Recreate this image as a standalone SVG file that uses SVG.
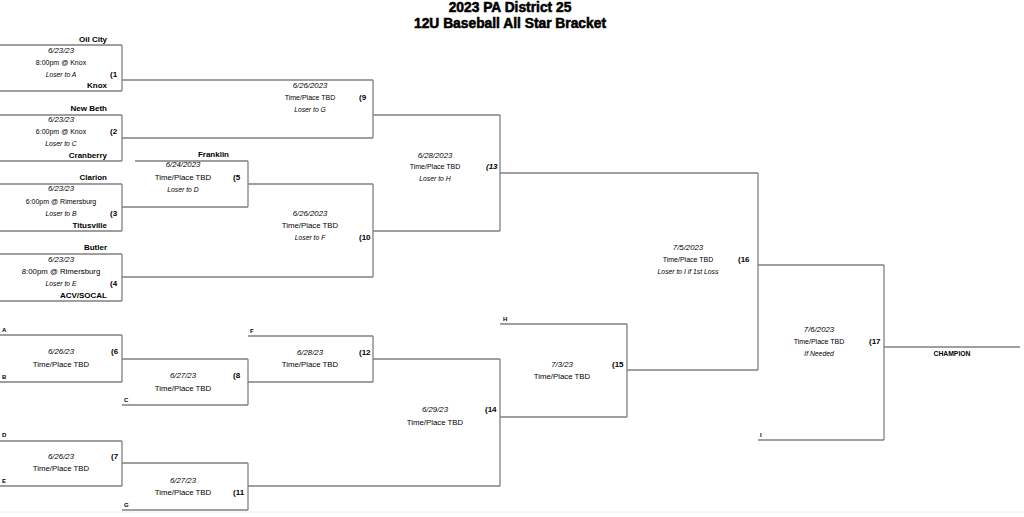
<svg xmlns="http://www.w3.org/2000/svg" width="1024" height="517" viewBox="0 0 1024 517">
<style>
text{font-family:"Liberation Sans",Arial,sans-serif;fill:#000}
.title{font-size:13.8px;font-weight:bold;text-anchor:middle;stroke:#000;stroke-width:0.55}
.team{font-size:8px;font-weight:bold;text-anchor:end}
.d{font-size:7.8px;font-style:italic;text-anchor:middle}
.a{font-size:7.8px;text-anchor:middle}
.c{font-size:7px;text-anchor:middle}
.l{font-size:6.8px;font-style:italic;text-anchor:middle}
.n{font-size:8px;font-weight:bold}
.ni{font-size:8px;font-weight:bold;font-style:italic}
.s{font-size:6px;font-weight:bold}
.champ{font-size:6.8px;font-weight:bold;text-anchor:middle}
.e{fill:none;stroke:#808080;stroke-width:1.3}
</style>
<rect width="1024" height="517" fill="#fff"/>
<path d="M0 512H1024" stroke="#ececec" stroke-width="1"/>
<g id="title">
<text class="title" x="510" y="11.5">2023 PA District 25</text>
<text class="title" x="510" y="27.5">12U Baseball All Star Bracket</text>
</g>
<g id="connectors" class="e">
<path d="M0 45H122M0 91H122M122 80H373M0 115H122M0 161H122M122 138H373M135 161H248M0 184H122M0 231H122M122 207H248M248 184H373M0 254H122M0 301H122M122 277H373M373 115H500M373 231H500M500 173H758M627 370H758M758 265H884M758 440H884M884 347H1020M500 324H627M500 417H627M373 359H500M248 486H500M248 336H373M248 382H373M0 335H122M0 382H122M122 359H248M122 405H248M0 441H122M0 486H122M122 463H248M122 510H248"/>
</g>
<g id="game1">
<path class="e" d="M122 45V91"/>
<text class="team" x="107" y="42">Oil City</text>
<text class="d" x="61" y="53">6/23/23</text>
<text class="c" x="61" y="65">8:00pm @ Knox</text>
<text class="l" x="61" y="77">Loser to A</text>
<text class="n" x="110" y="77">(1</text>
<text class="team" x="107" y="88">Knox</text>
</g>
<g id="game2">
<path class="e" d="M122 115V161"/>
<text class="team" x="107" y="111">New Beth</text>
<text class="d" x="61" y="122">6/23/23</text>
<text class="c" x="61" y="134">6:00pm @ Knox</text>
<text class="n" x="110" y="134">(2</text>
<text class="l" x="61" y="146">Loser to C</text>
<text class="team" x="107" y="158">Cranberry</text>
</g>
<g id="game3">
<path class="e" d="M122 184V231"/>
<text class="team" x="107" y="180">Clarion</text>
<text class="d" x="61" y="191">6/23/23</text>
<text class="c" x="61" y="204">6:00pm @ Rimersburg</text>
<text class="l" x="61" y="216">Loser to B</text>
<text class="n" x="110" y="216">(3</text>
<text class="team" x="107" y="228">Titusville</text>
</g>
<g id="game4">
<path class="e" d="M122 254V301"/>
<text class="team" x="107" y="250">Butler</text>
<text class="d" x="61" y="262">6/23/23</text>
<text class="a" x="61" y="274">8:00pm @ Rimersburg</text>
<text class="l" x="61" y="286">Loser to E</text>
<text class="n" x="110" y="286">(4</text>
<text class="team" x="107" y="298">ACV/SOCAL</text>
</g>
<g id="game5">
<path class="e" d="M248 161V207"/>
<text class="team" x="229" y="157">Franklin</text>
<text class="d" x="183" y="167">6/24/2023</text>
<text class="a" x="183" y="180">Time/Place TBD</text>
<text class="n" x="233" y="180">(5</text>
<text class="l" x="183" y="192">Loser to D</text>
</g>
<g id="game9">
<path class="e" d="M373 80V138"/>
<text class="d" x="310" y="88">6/26/2023</text>
<text class="c" x="310" y="100">Time/Place TBD</text>
<text class="n" x="359" y="100">(9</text>
<text class="l" x="310" y="112">Loser to G</text>
</g>
<g id="game10">
<path class="e" d="M373 184V277"/>
<text class="d" x="310" y="216">6/26/2023</text>
<text class="a" x="310" y="228">Time/Place TBD</text>
<text class="l" x="310" y="240">Loser to F</text>
<text class="n" x="359" y="240">(10</text>
</g>
<g id="game13">
<path class="e" d="M500 115V231"/>
<text class="d" x="435" y="158">6/28/2023</text>
<text class="c" x="435" y="169">Time/Place TBD</text>
<text class="ni" x="486" y="169">(13</text>
<text class="l" x="435" y="181">Loser to H</text>
</g>
<g id="game16">
<path class="e" d="M758 173V370"/>
<text class="d" x="688" y="250">7/5/2023</text>
<text class="c" x="688" y="262">Time/Place TBD</text>
<text class="n" x="738" y="262">(16</text>
<text class="l" x="688" y="274">Loser to I if 1st Loss</text>
</g>
<g id="game17">
<path class="e" d="M884 265V440"/>
<text class="d" x="819" y="332">7/6/2023</text>
<text class="c" x="819" y="344">Time/Place TBD</text>
<text class="n" x="869" y="344">(17</text>
<text class="l" x="819" y="356">If Needed</text>
<text class="s" x="760" y="437">I</text>
</g>
<g id="champion">
<text class="champ" x="952" y="356">CHAMPION</text>
</g>
<g id="game6">
<path class="e" d="M122 335V382"/>
<text class="s" x="2" y="332">A</text>
<text class="s" x="2" y="379">B</text>
<text class="d" x="61" y="354">6/26/23</text>
<text class="a" x="61" y="367">Time/Place TBD</text>
<text class="n" x="111" y="354">(6</text>
</g>
<g id="game8">
<path class="e" d="M248 359V405"/>
<text class="d" x="183" y="378">6/27/23</text>
<text class="a" x="183" y="391">Time/Place TBD</text>
<text class="n" x="233" y="378">(8</text>
<text class="s" x="124" y="402">C</text>
</g>
<g id="game7">
<path class="e" d="M122 441V486"/>
<text class="s" x="2" y="437">D</text>
<text class="s" x="2" y="483">E</text>
<text class="d" x="61" y="459">6/26/23</text>
<text class="a" x="61" y="471">Time/Place TBD</text>
<text class="n" x="111" y="459">(7</text>
</g>
<g id="game11">
<path class="e" d="M248 463V510"/>
<text class="d" x="183" y="483">6/27/23</text>
<text class="a" x="183" y="495">Time/Place TBD</text>
<text class="n" x="233" y="495">(11</text>
<text class="s" x="124" y="507">G</text>
</g>
<g id="game12">
<path class="e" d="M373 336V382"/>
<text class="s" x="250" y="333">F</text>
<text class="d" x="310" y="355">6/28/23</text>
<text class="a" x="310" y="367">Time/Place TBD</text>
<text class="n" x="359" y="355">(12</text>
</g>
<g id="game14">
<path class="e" d="M500 359V486"/>
<text class="d" x="435" y="412">6/29/23</text>
<text class="a" x="435" y="425">Time/Place TBD</text>
<text class="n" x="485" y="412">(14</text>
</g>
<g id="game15">
<path class="e" d="M627 324V417"/>
<text class="s" x="503" y="321">H</text>
<text class="d" x="562" y="367">7/3/23</text>
<text class="a" x="562" y="379">Time/Place TBD</text>
<text class="n" x="612" y="367">(15</text>
</g>
</svg>
